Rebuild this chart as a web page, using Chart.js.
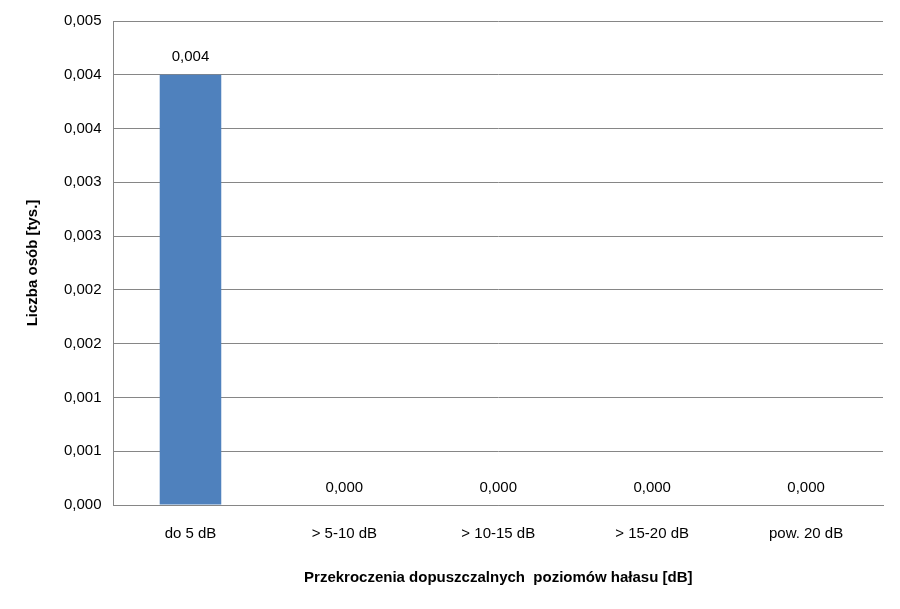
<!DOCTYPE html>
<html>
<head>
<meta charset="utf-8">
<script src="https://cdn.jsdelivr.net/npm/chart.js@4/dist/chart.umd.min.js"></script>
<style>
html, body { margin: 0; padding: 0; background: #fff; }
#wrap { width: 900px; height: 609px; }
</style>
</head>
<body>
<div id="wrap"><canvas id="chart"></canvas></div>
<script>
const categories = ['do 5 dB', '> 5-10 dB', '> 10-15 dB', '> 15-20 dB', 'pow. 20 dB'];
const values = [0.004, 0, 0, 0, 0];
const tickLabels = ['0,000', '0,001', '0,001', '0,002', '0,002', '0,003', '0,003', '0,004', '0,004', '0,005'];

const valueLabels = {
    id: 'valueLabels',
    afterDatasetsDraw(chart) {
        const ctx = chart.ctx;
        const meta = chart.getDatasetMeta(0);
        ctx.save();
        ctx.font = '15px "Liberation Sans", Arial, sans-serif';
        ctx.fillStyle = '#000';
        ctx.textAlign = 'center';
        ctx.textBaseline = 'bottom';
        meta.data.forEach((bar, i) => {
            ctx.fillText(values[i].toFixed(3).replace('.', ','), bar.x, bar.y - 10);
        });
        ctx.restore();
    }
};

new Chart(document.getElementById('chart').getContext('2d'), {
    type: 'bar',
    data: {
        labels: categories,
        datasets: [{
            data: values,
            backgroundColor: '#4f81bd',
            barPercentage: 0.4,
            categoryPercentage: 1
        }]
    },
    options: {
        responsive: true,
        maintainAspectRatio: false,
        animation: false,
        layout: { padding: { top: 10, right: 17, bottom: 18, left: 20 } },
        plugins: { legend: { display: false }, tooltip: { enabled: false } },
        scales: {
            x: {
                grid: { display: false, drawTicks: false },
                border: { color: '#868686' },
                ticks: { color: '#000', font: { size: 15, family: '"Liberation Sans", Arial' }, padding: 20 },
                title: {
                    display: true,
                    text: 'Przekroczenia dopuszczalnych  poziomów hałasu [dB]',
                    color: '#000',
                    padding: { top: 6 },
                    font: { size: 15, weight: 'bold', family: '"Liberation Sans", Arial' }
                }
            },
            y: {
                min: 0,
                max: 0.0045,
                ticks: {
                    stepSize: 0.0005,
                    color: '#000',
                    font: { size: 15, family: '"Liberation Sans", Arial' },
                    padding: 12,
                    callback: (v, i) => tickLabels[i]
                },
                grid: { color: '#868686', drawTicks: false },
                border: { color: '#868686' },
                title: {
                    display: true,
                    text: 'Liczba osób [tys.]',
                    color: '#000',
                    padding: { bottom: 10 },
                    font: { size: 15, weight: 'bold', family: '"Liberation Sans", Arial' }
                }
            }
        }
    },
    plugins: [valueLabels]
});
</script>
</body>
</html>
